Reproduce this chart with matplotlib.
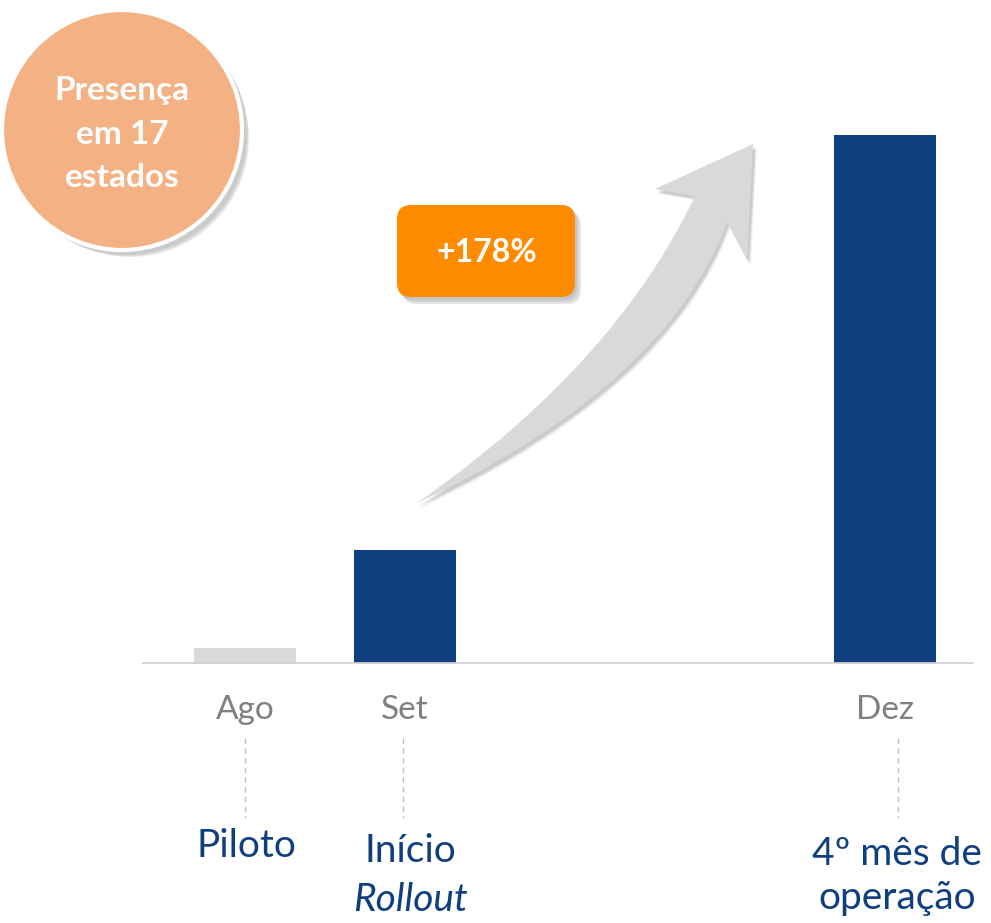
import matplotlib.pyplot as plt
from matplotlib.patches import Circle, FancyBboxPatch, PathPatch
from matplotlib.path import Path

plt.rcParams['font.family'] = ['Lato', 'DejaVu Sans']

# data
months = ['Ago', 'Set', 'Dez']
month_pos = [0, 1, 4]          # Ago, Set, (Out), (Nov), Dez
values = [13, 100, 467]
bar_colors = ['#D9D9D9', '#103F80', '#103F80']
phase_labels = ['Piloto', 'Início', '4º mês de\noperação']
growth_label = '+178%'
badge_label = 'Presença\nem 17\nestados'

W, H = 991, 923
fig = plt.figure(figsize=(W / 100, H / 100), dpi=100)

# bar axes: baseline at y=663 px, spans x 143..973 px
ax = fig.add_axes([143 / W, (H - 663) / H, (973 - 143) / W, (663 - 100) / H])
ax.bar(month_pos, values, width=0.6375, color=bar_colors)
ax.set_xlim(-0.6375, 4.55)
ax.set_ylim(0, 563 / 1.13)
for s in ['top', 'right', 'left']:
    ax.spines[s].set_visible(False)
ax.spines['bottom'].set_color('#D0D0D0')
ax.spines['bottom'].set_linewidth(1.3)
ax.set_yticks([])
ax.set_xticks(month_pos, months)
ax.tick_params(axis='x', length=0, pad=23, labelsize=24, labelcolor='#808080')

# overlay in pixel coordinates
deco = fig.add_axes([0, 0, 1, 1])
deco.set_xlim(0, W)
deco.set_ylim(H, 0)
deco.axis('off')

# dashed connectors and phase labels
for x in [245, 403, 898]:
    deco.plot([x, x], [738, 818], color='#BFBFBF', lw=1, ls=(0, (4, 3)))
blue = '#103F80'
deco.text(246, 846, phase_labels[0], ha='center', va='center', fontsize=28, color=blue)
deco.text(410, 851, phase_labels[1], ha='center', va='center', fontsize=28, color=blue)
deco.text(410, 900, 'Rollout', ha='center', va='center', fontsize=28, color=blue,
          style='italic')
deco.text(897, 876, phase_labels[2], ha='center', va='center', fontsize=28, color=blue,
          linespacing=1.3)

# badge circle with soft shadow
for i, a in enumerate([0.05, 0.07, 0.09]):
    deco.add_patch(Circle((126 + 2 * i, 134 + 2 * i), 121 - i, color='black', alpha=a, lw=0))
deco.add_patch(Circle((122, 130), 120, facecolor='#F4B183', edgecolor='white', lw=3))
deco.text(122, 134, badge_label, ha='center', va='center', fontsize=24,
          fontweight='bold', color='white', linespacing=1.62)

# growth box with shadow
for i, a in enumerate([0.06, 0.08, 0.1]):
    deco.add_patch(FancyBboxPatch((399 + 2 * i, 208 + 2 * i), 178, 92,
                                  boxstyle='round,pad=0,rounding_size=14',
                                  color='black', alpha=a, lw=0))
deco.add_patch(FancyBboxPatch((397, 205), 178, 92,
                              boxstyle='round,pad=0,rounding_size=14',
                              facecolor='#FF8C00', edgecolor='none'))
deco.text(487, 252, growth_label, ha='center', va='center', fontsize=23,
          fontweight='bold', color='white')

# curved growth arrow
def arrow_path(dx=0, dy=0):
    pts = [(417, 503), (615, 365), (695, 196), (655, 189), (753, 144),
           (747, 260), (727, 222), (668, 385), (417, 503)]
    pts = [(x + dx, y + dy) for x, y in pts]
    codes = [Path.MOVETO, Path.CURVE3, Path.CURVE3, Path.LINETO, Path.LINETO,
             Path.LINETO, Path.LINETO, Path.CURVE3, Path.CURVE3]
    return Path(pts, codes)

for i, a in enumerate([0.05, 0.07, 0.09]):
    deco.add_patch(PathPatch(arrow_path(4 - i, 5 - i), facecolor='black', alpha=a, lw=0))
deco.add_patch(PathPatch(arrow_path(), facecolor='#D9D9D9', edgecolor='none'))

fig.savefig('out.png', dpi=100)
